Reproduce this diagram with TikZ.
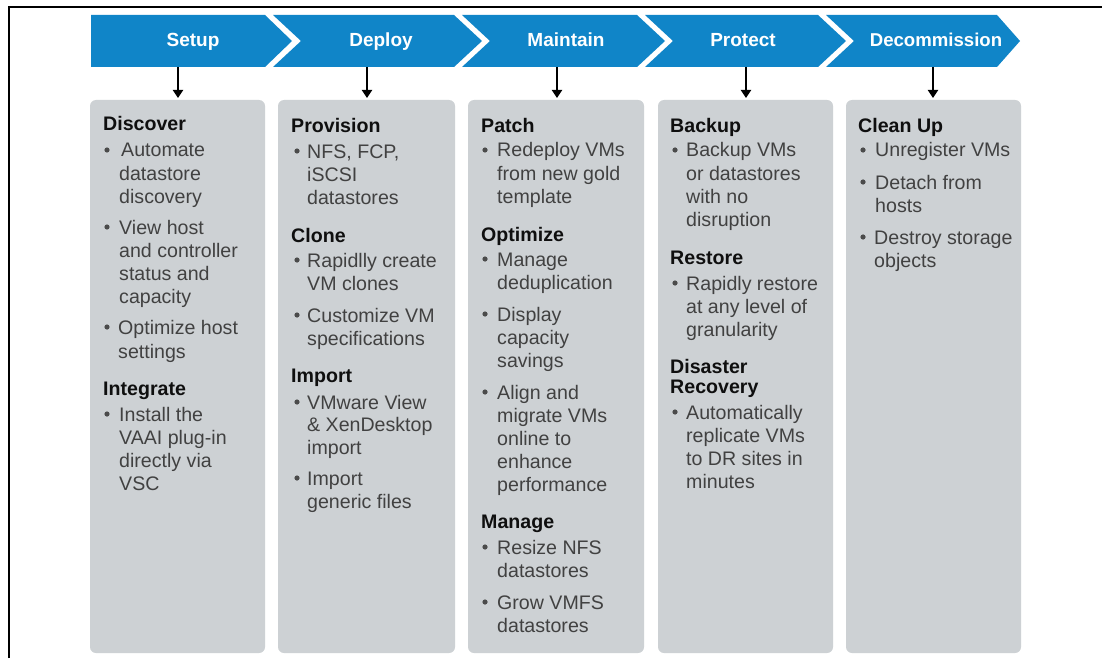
\documentclass[tikz,border=0pt]{standalone}
\usepackage{fontspec}
\setmainfont{Liberation Sans}
\usetikzlibrary{arrows.meta}
\definecolor{chev}{RGB}{16,133,200}
\definecolor{panel}{RGB}{205,209,212}
\definecolor{bodytxt}{RGB}{65,65,65}
\definecolor{headtxt}{RGB}{15,15,15}
\definecolor{bullcol}{RGB}{75,75,75}
\newcounter{tn}
\newcommand{\Hd}[3]{\stepcounter{tn}\node[hdtxt] (t\arabic{tn}) at (#1,#2+7) {#3};}
\newcommand{\Tx}[3]{\stepcounter{tn}\node[bdtxt] (t\arabic{tn}) at (#1,#2+7) {#3};}
\newcommand{\Bu}[4]{\fill[bullcol] (#1,#2) circle (2.6); \Tx{#3}{#2}{#4}}
\tikzset{
  hdtxt/.style={anchor=base west, inner sep=0pt, text=headtxt, font=\fontsize{19.6}{22}\selectfont\bfseries},
  bdtxt/.style={anchor=base west, inner sep=0pt, text=bodytxt, font=\fontsize{19.6}{22}\selectfont},
  chevlabel/.style={anchor=base, inner sep=0pt, text=white, font=\fontsize{19}{22}\selectfont\bfseries},
  chevfill/.style={fill=chev},
  panelbox/.style={fill=panel, rounded corners=6pt},
  flowarrow/.style={line width=2.2pt, -{Triangle[width=10pt,length=8pt]}},
}
\begin{document}
\begin{tikzpicture}[x=1pt,y=-1pt]
\useasboundingbox (0,0) rectangle (1102,658);
\fill[white] (0,0) rectangle (1102,658);
\draw[line width=1.5pt] (9,658) -- (9,7) -- (1102,7);

% chevrons
\fill[chevfill] (91,15) -- (265,15) -- (292,41) -- (265,67) -- (91,67) -- cycle;
\fill[chevfill] (273,15) -- (454,15) -- (482,41) -- (454,67) -- (273,67) -- (301,41) -- cycle;
\fill[chevfill] (462,15) -- (637,15) -- (665,41) -- (637,67) -- (462,67) -- (490,41) -- cycle;
\fill[chevfill] (645,15) -- (818,15) -- (846,41) -- (818,67) -- (645,67) -- (673,41) -- cycle;
\fill[chevfill] (826,15) -- (997,15) -- (1020,41) -- (997,67) -- (826,67) -- (854,41) -- cycle;

\node[chevlabel] (lab1) at (193,47) {Setup};
\node[chevlabel] (lab2) at (381,47) {Deploy};
\node[chevlabel] (lab3) at (566,47) {Maintain};
\node[chevlabel] (lab4) at (743,47) {Protect};
\node[chevlabel, font=\fontsize{18.6}{22}\selectfont\bfseries] (lab5) at (936,47) {Decommission};

% panels
\fill[panelbox] (90,100) rectangle (265,653);
\fill[panelbox] (278,100) rectangle (455,653);
\fill[panelbox] (468,100) rectangle (644,653);
\fill[panelbox] (658,100) rectangle (833,653);
\fill[panelbox] (846,100) rectangle (1021,653);

% arrows
\coordinate (a1) at (178,67); \coordinate (p1) at (178,98);
\coordinate (a2) at (367,67); \coordinate (p2) at (367,98);
\coordinate (a3) at (557,67); \coordinate (p3) at (557,98);
\coordinate (a4) at (746,67); \coordinate (p4) at (746,98);
\coordinate (a5) at (933,67); \coordinate (p5) at (933,98);
\draw[flowarrow] (a1) -- (p1);
\draw[flowarrow] (a2) -- (p2);
\draw[flowarrow] (a3) -- (p3);
\draw[flowarrow] (a4) -- (p4);
\draw[flowarrow] (a5) -- (p5);

% box 1
\Hd{103}{124}{Discover}
\Bu{107}{150}{121}{Automate}
\Tx{119}{173}{datastore}
\Tx{119}{196}{discovery}
\Bu{107}{227}{119}{View host}
\Tx{119}{250}{and controller}
\Tx{119}{273}{status and}
\Tx{119}{296}{capacity}
\Bu{107}{327}{118}{Optimize host}
\Tx{118}{351}{settings}
\Hd{103}{388}{Integrate}
\Bu{107}{414}{119}{Install the}
\Tx{119}{437}{VAAI plug-in}
\Tx{119}{460}{directly via}
\Tx{119}{483}{VSC}

% box 2
\Hd{291}{125}{Provision}
\Bu{297}{151}{307}{NFS, FCP,}
\Tx{307}{174}{iSCSI}
\Tx{307}{197}{datastores}
\Hd{291}{235}{Clone}
\Bu{297}{260}{307}{Rapidlly create}
\Tx{307}{283}{VM clones}
\Bu{297}{315}{307}{Customize VM}
\Tx{307}{338}{specifications}
\Hd{291}{375}{Import}
\Bu{297}{402}{307}{VMware View}
\Tx{307}{424}{\& XenDesktop}
\Tx{307}{447}{import}
\Bu{297}{478}{307}{Import}
\Tx{307}{501}{generic files}

% box 3
\Hd{481}{125}{Patch}
\Bu{485}{150}{497}{Redeploy VMs}
\Tx{497}{173}{from new gold}
\Tx{497}{196}{template}
\Hd{481}{234}{Optimize}
\Bu{485}{259}{497}{Manage}
\Tx{497}{282}{deduplication}
\Bu{485}{314}{497}{Display}
\Tx{497}{337}{capacity}
\Tx{497}{360}{savings}
\Bu{485}{392}{497}{Align and}
\Tx{497}{415}{migrate VMs}
\Tx{497}{438}{online to}
\Tx{497}{461}{enhance}
\Tx{497}{484}{performance}
\Hd{481}{521}{Manage}
\Bu{485}{547}{497}{Resize NFS}
\Tx{497}{570}{datastores}
\Bu{485}{602}{497}{Grow VMFS}
\Tx{497}{625}{datastores}

% box 4
\Hd{670}{125}{Backup}
\Bu{675}{150}{686}{Backup VMs}
\Tx{686}{173}{or datastores}
\Tx{686}{196}{with no}
\Tx{686}{219}{disruption}
\Hd{670}{257}{Restore}
\Bu{675}{283}{686}{Rapidly restore}
\Tx{686}{306}{at any level of}
\Tx{686}{329}{granularity}
\Hd{670}{366}{Disaster}
\Hd{670}{386}{Recovery}
\Bu{675}{412}{686}{Automatically}
\Tx{686}{435}{replicate VMs}
\Tx{686}{458}{to DR sites in}
\Tx{686}{481}{minutes}

% box 5
\Hd{858}{125}{Clean Up}
\Bu{863}{150}{875}{Unregister VMs}
\Bu{863}{182}{875}{Detach from}
\Tx{875}{205}{hosts}
\Bu{863}{237}{874}{Destroy storage}
\Tx{874}{260}{objects}
\end{tikzpicture}
\end{document}
